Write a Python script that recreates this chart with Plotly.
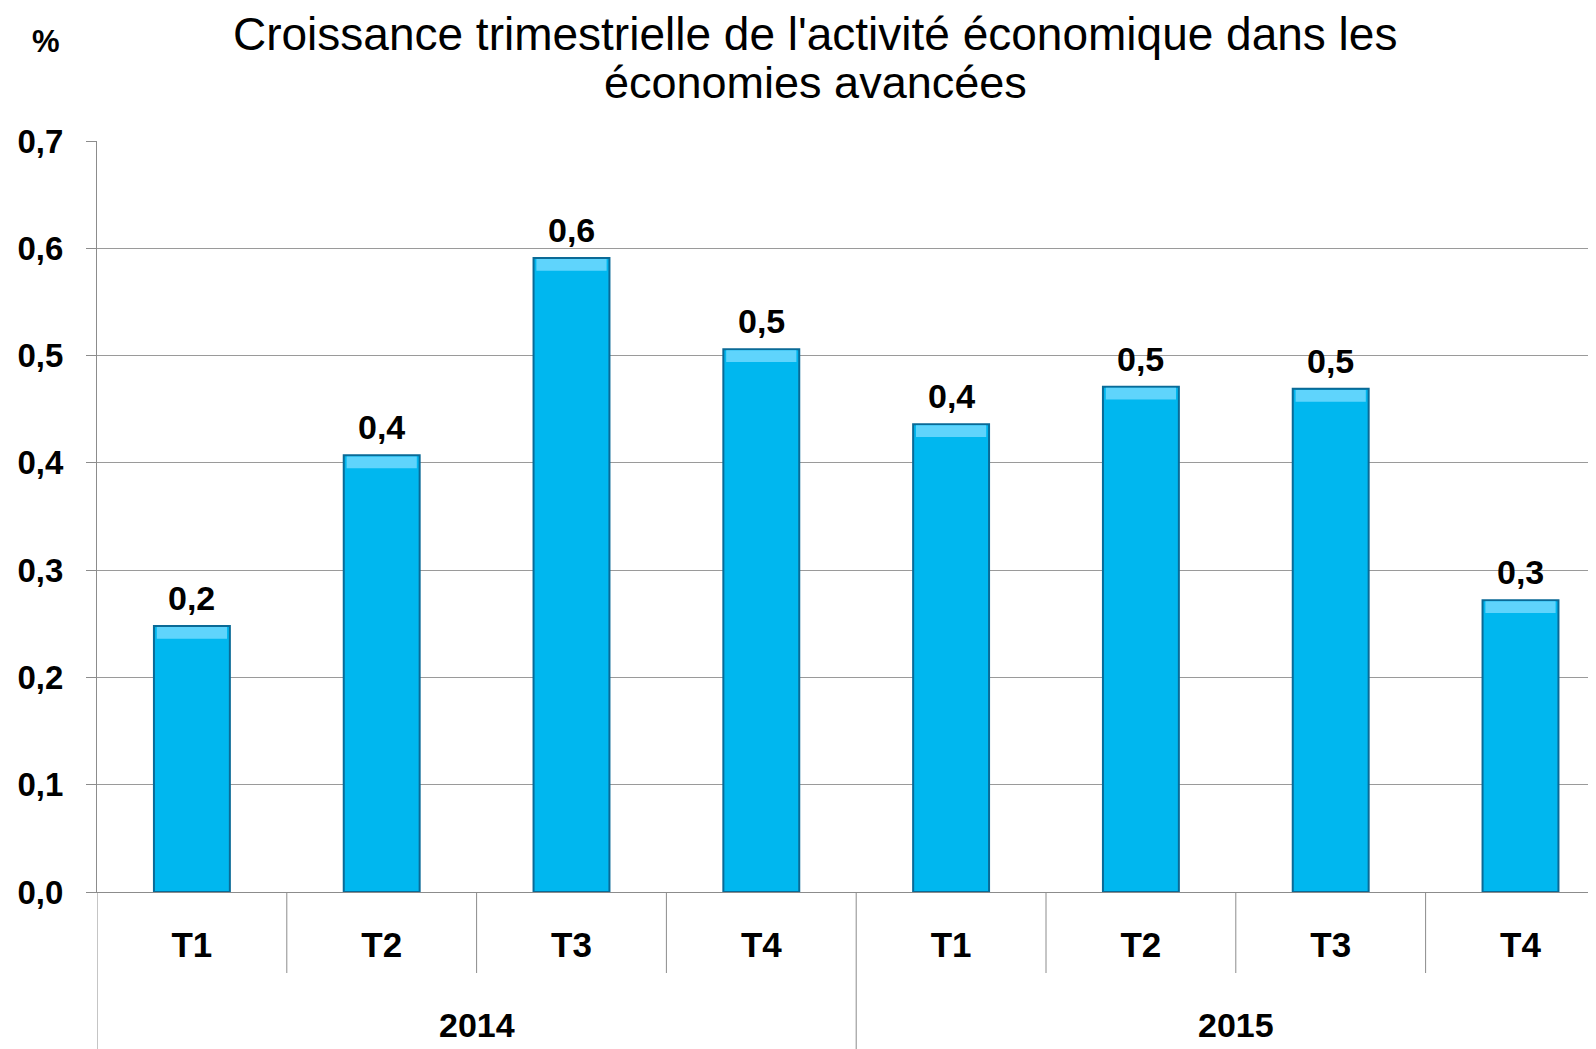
import plotly.graph_objects as go

years = ["2014", "2015"]
quarters = ["T1", "T2", "T3", "T4"]
categories = [f"{y} {q}" for y in years for q in quarters]
quarter_labels = quarters * 2
values = [0.248, 0.407, 0.591, 0.506, 0.436, 0.471, 0.469, 0.272]
value_labels = ["0,2", "0,4", "0,6", "0,5", "0,4", "0,5", "0,5", "0,3"]
y_ticks = [0.0, 0.1, 0.2, 0.3, 0.4, 0.5, 0.6, 0.7]
y_tick_labels = ["0,0", "0,1", "0,2", "0,3", "0,4", "0,5", "0,6", "0,7"]
title_lines = ["Croissance trimestrielle de l'activité économique dans les",
               "économies avancées"]

FONT = "Liberation Sans, Arial, sans-serif"
OFF = 8  # browser body margin
W, H = 1596 - OFF, 1049 - OFF
L, R, T, B = 97 - OFF, 0, 141 - OFF, 157
plot_h = H - T - B
plot_w = W - L - R
cat_px = 189.8


def py(y_px):
    """window pixel y -> paper y"""
    return (H - B - (y_px - OFF)) / plot_h


def px(x_px):
    return (x_px - OFF - L) / plot_w


fig = go.Figure()
fig.add_trace(go.Bar(
    x=categories, y=values,
    marker=dict(color="#00B7EF", line=dict(color="#0A6A96", width=2)),
    width=0.4, hoverinfo="skip",
))
# light bevel at the top of each bar
fig.add_trace(go.Bar(
    x=categories, y=[0.011] * len(values), base=[v - 0.012 for v in values],
    marker=dict(color="#5FD4FC", line=dict(width=0)),
    width=0.37, hoverinfo="skip",
))

annotations = []
for c, v, t in zip(categories, values, value_labels):
    annotations.append(dict(x=c, y=v, xref="x", yref="y", text=f"<b>{t}</b>",
                            showarrow=False, yanchor="bottom", yshift=7,
                            font=dict(family=FONT, size=34, color="black")))
for i, yr in enumerate(years):
    annotations.append(dict(x=1.5 + 4 * i, y=py(1025), xref="x", yref="paper",
                            text=f"<b>{yr}</b>", showarrow=False, yanchor="middle",
                            font=dict(family=FONT, size=34, color="black")))
annotations.append(dict(x=px(46), y=py(41), xref="paper", yref="paper",
                        text="<b>%</b>", showarrow=False, xanchor="center", yanchor="middle",
                        font=dict(family=FONT, size=31, color="black")))
for line, (xc, yc, fs) in zip(title_lines, [(815, 34, 46), (815, 82, 45)]):
    annotations.append(dict(x=px(xc), y=py(yc), xref="paper", yref="paper",
                            text=line, showarrow=False, xanchor="center", yanchor="middle",
                            font=dict(family=FONT, size=fs, color="black")))

shapes = []
for i in range(1, 8):
    if i == 4:
        continue
    shapes.append(dict(type="line", xref="x", yref="paper", x0=i - 0.5, x1=i - 0.5,
                       y0=0, y1=-81 / plot_h, line=dict(color="#8c8c8c", width=1)))
for xb in [-0.5, 3.5]:
    shapes.append(dict(type="line", xref="x", yref="paper", x0=xb, x1=xb,
                       y0=0, y1=-(B + 10) / plot_h, line=dict(color="#8c8c8c", width=1)))

fig.update_layout(
    width=W, height=H,
    margin=dict(l=L, r=R, t=T, b=B, pad=0),
    plot_bgcolor="white", paper_bgcolor="white",
    showlegend=False,
    barmode="overlay",
    annotations=annotations,
    shapes=shapes,
    xaxis=dict(
        type="category",
        range=[-0.5, -0.5 + plot_w / cat_px],
        tickmode="array", tickvals=categories, ticktext=[f"<b>{q}</b>" for q in quarter_labels],
        tickfont=dict(family=FONT, size=35, color="black"),
        ticks="", showgrid=False, zeroline=False,
        showline=True, linecolor="#8c8c8c", linewidth=1,
        ticklabelstandoff=22,
    ),
    yaxis=dict(
        range=[0, 0.7],
        tickmode="array", tickvals=y_ticks, ticktext=[f"<b>{t}</b>" for t in y_tick_labels],
        tickfont=dict(family=FONT, size=33, color="black"),
        ticks="outside", ticklen=10, tickcolor="#8c8c8c",
        showgrid=True, gridcolor="#9a9a9a", gridwidth=1,
        showline=True, linecolor="#8c8c8c", linewidth=1,
        zeroline=False,
        ticklabelstandoff=16,
    ),
)

fig.write_html("out.html")
